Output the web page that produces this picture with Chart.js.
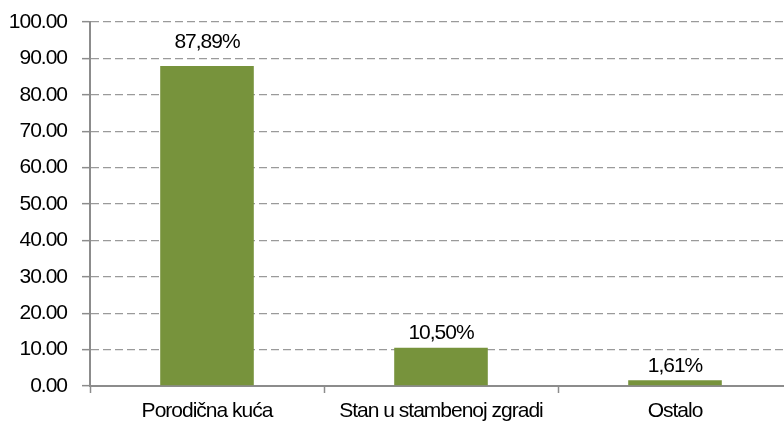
<!DOCTYPE html>
<html>
<head>
<meta charset="utf-8">
<script src="https://cdn.jsdelivr.net/npm/chart.js@4/dist/chart.umd.min.js"></script>
<style>
html,body{margin:0;padding:0;background:#fff;overflow:hidden;}
#wrap{position:relative;width:800px;height:425px;}
</style>
</head>
<body>
<div id="wrap"><canvas id="c" width="800" height="425"></canvas></div>
<script>
const categories = ["Porodična kuća", "Stan u stambenoj zgradi", "Ostalo"];
const values = [87.89, 10.50, 1.61];
const valueLabels = ["87,89%", "10,50%", "1,61%"];

const FONT = '"Liberation Sans", Arial, sans-serif';
const labelLift = [18, 9, 8];

const spacingPlugin = {
  id: 'spacing',
  beforeUpdate(chart) { chart.ctx.letterSpacing = '-1px'; },
  beforeLayout(chart) { chart.ctx.letterSpacing = '-1px'; },
  beforeDraw(chart) { chart.ctx.letterSpacing = '-1px'; }
};

const labelPlugin = {
  id: 'valLabels',
  afterDatasetsDraw(chart) {
    const ctx = chart.ctx;
    const meta = chart.getDatasetMeta(0);
    ctx.save();
    ctx.letterSpacing = '-1px';
    ctx.font = '21px ' + FONT;
    ctx.fillStyle = '#000';
    ctx.textAlign = 'center';
    ctx.textBaseline = 'alphabetic';
    meta.data.forEach((bar, i) => {
      ctx.fillText(valueLabels[i], bar.x, bar.y - labelLift[i]);
    });
    ctx.restore();
  }
};

const cv = document.getElementById('c');
cv.getContext('2d').letterSpacing = '-1px';

new Chart(cv, {
  type: 'bar',
  data: {
    labels: categories,
    datasets: [{
      data: values,
      backgroundColor: '#77933C',
      borderWidth: 0,
      categoryPercentage: 0.4,
      barPercentage: 1.0
    }]
  },
  options: {
    responsive: false,
    animation: false,
    devicePixelRatio: 1,
    layout: { padding: { top: 22, right: 8, bottom: 0, left: 0 } },
    plugins: { legend: { display: false }, tooltip: { enabled: false } },
    scales: {
      x: {
        grid: {
          offset: true,
          drawOnChartArea: false,
          drawTicks: true,
          tickLength: 7,
          tickColor: '#8c8c8c',
          tickWidth: 1.5
        },
        border: { color: '#8c8c8c', width: 2 },
        ticks: {
          color: '#000',
          padding: 6,
          maxRotation: 0,
          font: { family: FONT, size: 21 }
        },
        afterFit(scale) { scale.height = 39; scale.paddingLeft = 0; scale.paddingRight = 0; }
      },
      y: {
        min: 0,
        max: 100,
        grid: {
          color: (ctx) => ctx.tick && ctx.tick.value === 0 ? 'rgba(0,0,0,0)' : '#9a9a9a',
          lineWidth: 1.3,
          drawTicks: true,
          tickLength: 8,
          tickColor: '#8c8c8c',
          tickWidth: 1.5,
          tickBorderDash: []
        },
        border: { color: '#8c8c8c', width: 2, dash: [8, 4] },
        ticks: {
          stepSize: 10,
          color: '#000',
          padding: 15,
          font: { family: FONT, size: 21 },
          callback: (v) => Number(v).toFixed(2)
        },
        afterFit(scale) { scale.width = 90; scale.paddingTop = 0; scale.paddingBottom = 0; }
      }
    }
  },
  plugins: [spacingPlugin, labelPlugin]
});
</script>
</body>
</html>
